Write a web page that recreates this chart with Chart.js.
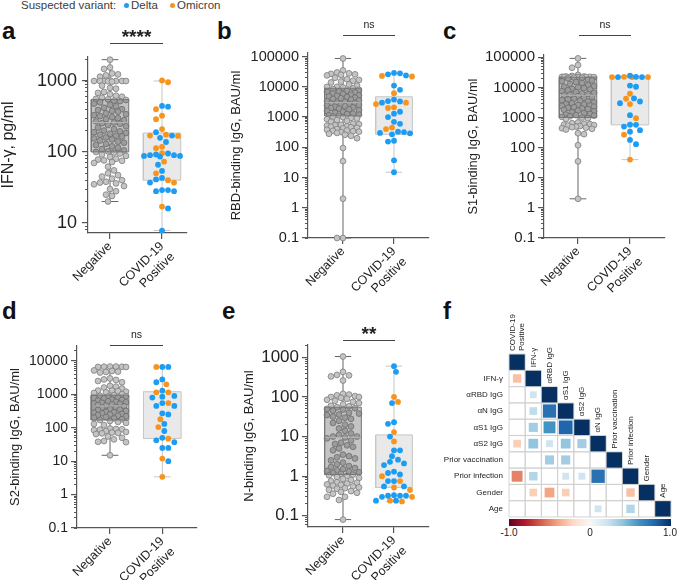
<!DOCTYPE html>
<html><head><meta charset="utf-8">
<script src="https://cdn.jsdelivr.net/npm/chart.js@4.4.1/dist/chart.umd.min.js"></script>
<style>
body{margin:0;background:#fff;}
#wrap{position:relative;width:677px;height:580px;overflow:hidden;font-family:'Liberation Sans',Arial,Helvetica,sans-serif;color:#222;}
canvas{position:absolute;}
.lt{position:absolute;font-weight:bold;font-size:24px;line-height:1;color:#111;}
.sig{position:absolute;text-align:center;line-height:1;color:#222;white-space:nowrap;}
.bar{position:absolute;height:0;border-top:1.3px solid #444;}
.leg{position:absolute;font-size:11.5px;line-height:12px;color:#3c3c3c;white-space:nowrap;}
.dot{position:absolute;width:5px;height:5px;border-radius:50%;}
.cb{position:absolute;font-size:10px;line-height:10px;color:#222;width:30px;text-align:center;}
</style></head>
<body><div id="wrap">
<div class="leg" style="left:21px;top:-1px;">Suspected variant:</div>
<div class="dot" style="left:124px;top:3px;background:#1c9cf2;"></div>
<div class="leg" style="left:131px;top:-1px;">Delta</div>
<div class="dot" style="left:170px;top:3px;background:#f7941d;"></div>
<div class="leg" style="left:177px;top:-1px;">Omicron</div>
<div class="lt" style="left:2px;top:19px;">a</div>
<div class="lt" style="left:217px;top:19px;">b</div>
<div class="lt" style="left:443px;top:19px;">c</div>
<div class="lt" style="left:2px;top:299px;">d</div>
<div class="lt" style="left:222px;top:299px;">e</div>
<div class="lt" style="left:443px;top:299px;">f</div>
<div id="cbar" style="position:absolute;left:509px;top:519px;width:162px;height:7px;"></div>
</div>
<script>
// ---------------- DATA ----------------
const groupLabels = ['Negative', ['COVID-19', 'Positive']];

// a: IFN-gamma, pg/ml
const ifnNeg = [2000,1550,1480,1280,1240,1200,1150,1020,1000,1000,1000,1000,1000,1000,990,980,860,800,780,700,680,650,620,600,580,560,550,540,530,520,500,480,460,440,420,400,390,380,370,350,340,330,320,310,300,290,280,270,260,255,250,240,230,220,210,200,195,190,185,180,175,170,165,160,155,150,145,140,135,130,125,120,115,110,105,102,100,98,95,92,88,85,80,78,76,75,72,70,62,55,50,47,45,42,40,38,37,36,35,33,30,28,25,24,20];
const ifnDelta = [445,435,190,170,158,138,95,92,90,90,88,88,86,66,54,43,41,37,29,29,28,28,16,7.8];
const ifnOmicron = [1020,960,400,325,290,210,175,170,168,118,113,96,73,50,40,37,17];
const ifnBoxNeg = [20,100,260,550,2000];   // min, q1, median, q3, max
const ifnBoxPos = [7.8,40,95,185,1000];

// b: RBD-binding IgG
const rbdNeg = [87000,35000,30000,28000,27000,26000,25000,24000,20000,18000,17000,16000,15000,14000,12000,11000,10000,10000,9500,9000,8500,8000,7500,7000,6800,6500,6000,5800,5500,5200,5000,4800,4600,4400,4200,4000,3800,3600,3400,3200,3000,2900,2800,2700,2600,2500,2400,2300,2200,2100,2000,1900,1800,1700,1600,1500,1400,1300,1250,1200,1150,1100,1050,1000,950,900,850,800,750,700,600,580,560,540,520,500,480,460,440,420,400,380,360,350,340,330,320,300,280,260,240,200,95,35,2,0.1,0.1];
const rbdDelta = [29000,26000,24000,28000,11000,8000,3800,3400,3000,3300,1500,1300,1000,700,600,330,290,270,300,320,165,155,37,15];
const rbdOmicron = [22000,23000,6200,3000,2700,2100,2000,450,400];
const rbdBoxNeg = [0.1,1100,3000,9000,87000];
const rbdBoxPos = [15,270,2000,4700,28000];

// c: S1-binding IgG
const s1Neg = [92000,55000,45000,26000,24000,23000,23000,22500,22500,22000,22000,22000,22000,22000,22000,21500,21000,21000,20000,18000,17000,16000,15000,14000,13000,12000,11000,10500,10000,9500,9000,8500,8000,7500,7000,6600,6300,6000,5700,5400,5100,4800,4500,4200,4000,3800,3600,3400,3200,3000,2800,2700,2600,2500,2400,2300,2200,2100,2000,1900,1800,1700,1600,1500,1400,1300,1250,1200,1150,1100,1050,1000,950,900,680,650,620,600,580,560,540,520,500,480,460,440,420,400,300,280,120,35,2];
const s1Delta = [24500,22500,22000,22000,10500,11500,4300,3400,3000,1200,580,570,500,380,340,180,130];
const s1Omicron = [22000,22000,22000,22500,6200,4200,2800,950,270,40];
const s1BoxNeg = [2,1000,5500,22000,92000];
const s1BoxPos = [40,570,5000,22000,24500];

// d: S2-binding IgG
const s2Neg = [6800,6800,6700,6700,6600,6600,5200,5000,4800,4700,4500,3000,2800,2700,2500,2300,1800,1700,1600,1500,1300,1300,1250,1200,1150,1100,1000,950,900,880,850,800,780,750,700,680,650,620,600,580,560,540,520,500,480,460,440,420,400,380,360,350,340,320,300,290,280,270,260,250,240,230,220,210,200,190,180,170,160,150,140,130,120,95,92,90,88,85,80,75,72,70,68,65,55,50,45,40,38,37,15];
const s2Delta = [6600,6600,2800,2300,1300,900,850,800,550,450,450,270,250,130,80,50,42,37,25,25,10];
const s2Omicron = [6600,2000,1150,1150,550,180,105,47,12,3.4];
const s2BoxNeg = [15,170,450,950,6800];
const s2BoxPos = [3.4,48,350,1200,6600];

// e: N-binding IgG
const nNeg = [1050,430,360,350,330,260,120,115,110,105,100,100,95,90,85,80,75,70,65,60,58,55,52,50,48,45,40,38,36,35,32,30,28,25,22,20,18,16,14,12,11,10,10,9.5,9,8,7,6.5,6,5.5,5,4.5,3.5,3.2,3,2.8,2.5,2.2,2,1.8,1.7,1.6,1.5,1.4,1.35,1.3,1.25,1.2,1.15,1.1,1.05,1.0,0.95,0.9,0.85,0.8,0.75,0.7,0.68,0.65,0.62,0.6,0.58,0.55,0.52,0.5,0.48,0.45,0.42,0.4,0.38,0.36,0.3,0.3,0.25,0.08];
const nDelta = [600,430,70,21,23,10,4.5,3.2,4.5,2.3,1.9,2.1,2.6,1.3,1.1,1.2,0.75,0.75,0.55,0.55,0.32,0.32,0.3,0.32,0.33,0.24,0.24];
const nOmicron = [100,75,13,7.5,1.0,0.75,0.52,0.45,0.3,0.24,0.23];
const nBoxNeg = [0.08,1.1,9.5,55,1050];
const nBoxPos = [0.23,0.52,1.7,11,600];

const sigLabels = ['****','ns','ns','ns','**'];

// f: correlation matrix (lower triangle, row by row)
const corrColLabels = [['COVID-19','Positive'],'IFN-γ','αRBD IgG','αS1 IgG','αS2 IgG','αN IgG','Prior vaccination','Prior infection','Gender','Age'];
const corrRowLabels = ['','IFN-γ','αRBD IgG','αN IgG','αS1 IgG','αS2 IgG','Prior vaccination','Prior infection','Gender','Age'];
const corrRows = [
  [1],
  [-0.3,1],
  [0,0.2,1],
  [0,0.25,0.75,1],
  [0,0.35,0.6,0.8,1],
  [-0.25,0.4,0.2,0.4,0.35,1],
  [0,0,0.35,0.35,0,0,1],
  [-0.5,0.3,0,0.2,0.2,0.75,0,1],
  [0,-0.25,-0.4,-0.25,0,0,0,-0.3,1],
  [0,0,0,0,0,0.2,0,0.3,0,1]
];
const colorbarTicks = ['-1.0','0','1.0'];

// ---------------- STYLE / LAYOUT ----------------
Chart.defaults.font.family = "'Liberation Sans', Arial, Helvetica, sans-serif";
Chart.defaults.color = '#222';
Chart.defaults.animation = false;
Chart.defaults.events = [];
Chart.defaults.plugins.legend.display = false;
Chart.defaults.plugins.tooltip.enabled = false;

const AXIS = '#555';
const DELTA_C = '#1c9cf2', OMI_C = '#f7941d', NEG_FILL = '#c4c4c4', NEG_LINE = '#7d7d7d';

const panels = [
  {title:'IFN-γ, pg/ml', neg:ifnNeg, delta:ifnDelta, omi:ifnOmicron, boxNeg:ifnBoxNeg, boxPos:ifnBoxPos,
   yMin:7.2, yMax:2180, xMin:-0.423, xMax:1.48, canvas:[0,0,220,300], area:[88,57,187,233], titleCx:9, titleSize:16, tickSize:18, tickPad:5,
   sig:{x1:110,x2:163,y:42.5,top:27,size:19,bold:true}},
  {title:'RBD-binding IgG, BAU/ml', neg:rbdNeg, delta:rbdDelta, omi:rbdOmicron, boxNeg:rbdBoxNeg, boxPos:rbdBoxPos,
   yMin:0.1, yMax:132000, xMin:-0.686, xMax:1.686, canvas:[220,0,220,300], area:[308,53,429,238], titleCx:236.5, titleSize:13, tickSize:14.5, tickPad:3,
   sig:{x1:343,x2:395,y:35,top:19,size:10.5,bold:false}},
  {title:'S1-binding IgG, BAU/ml', neg:s1Neg, delta:s1Delta, omi:s1Omicron, boxNeg:s1BoxNeg, boxPos:s1BoxPos,
   yMin:0.1, yMax:119000, xMin:-0.654, xMax:1.673, canvas:[440,0,237,300], area:[544,55,665,238], titleCx:473, titleSize:12.8, tickSize:15, tickPad:3,
   sig:{x1:579,x2:631,y:35,top:19,size:10.5,bold:false}},
  {title:'S2-binding IgG, BAU/ml', neg:s2Neg, delta:s2Delta, omi:s2Omicron, boxNeg:s2BoxNeg, boxPos:s2BoxPos,
   yMin:0.1, yMax:28000, xMin:-0.631, xMax:1.663, canvas:[0,290,220,290], area:[77,346,197,528], titleCx:15, titleSize:13, tickSize:14, tickPad:3,
   sig:{x1:110,x2:163,y:345,top:329,size:10.5,bold:false}},
  {title:'N-binding IgG, BAU/ml', neg:nNeg, delta:nDelta, omi:nOmicron, boxNeg:nBoxNeg, boxPos:nBoxPos,
   yMin:0.052, yMax:2050, xMin:-0.686, xMax:1.686, canvas:[220,290,220,290], area:[308,345,429,527], titleCx:249, titleSize:13, tickSize:17, tickPad:3,
   sig:{x1:343,x2:395,y:340,top:324,size:19,bold:true}}
];

const wrap = document.getElementById('wrap');

function decadeTicks(s){
  const t=[];
  for(let k=-3;k<=6;k++){const v=Number('1e'+k); if(v>=s.min*0.999 && v<=s.max*1.001) t.push({value:v});}
  s.ticks=t;
}
function minorTicks(s){
  const t=[];
  for(let k=-3;k<=6;k++) for(let m=1;m<=9;m++){const v=m*Number('1e'+k); if(v>=s.min*0.999 && v<=s.max*1.001) t.push({value:v});}
  s.ticks=t;
}

function boxDatasets(stats, cx, st){
  const [mn,q1,md,q3,mx]=stats; const bw=0.36, cw=0.16;
  const c={type:'line', showLine:true, pointRadius:0, borderWidth:1, clip:false, tension:0};
  return [
    {...c, data:[{x:cx-bw,y:q1},{x:cx+bw,y:q1},{x:cx+bw,y:q3},{x:cx-bw,y:q3},{x:cx-bw,y:q1}], fill:'shape', backgroundColor:st.fill, borderColor:st.edge, order:st.boxOrder},
    {...c, data:[{x:cx,y:mn},{x:cx,y:q1}], borderColor:st.whisk, fill:false, order:3},
    {...c, data:[{x:cx,y:q3},{x:cx,y:mx}], borderColor:st.whisk, fill:false, order:3},
    {...c, data:[{x:cx-cw,y:mn},{x:cx+cw,y:mn}], borderColor:st.whisk, fill:false, order:3},
    {...c, data:[{x:cx-cw,y:mx},{x:cx+cw,y:mx}], borderColor:st.whisk, fill:false, order:3},
    {...c, data:[{x:cx-bw,y:md},{x:cx+bw,y:md}], borderColor:st.med, fill:false, order:st.boxOrder}
  ];
}

function swarm(py, d, maxOff){
  const idx=py.map((_,i)=>i).sort((a,b)=>py[a]-py[b]);
  const placed=[], off=new Array(py.length).fill(0);
  const step=d/3, nMax=Math.floor(maxOff/step);
  idx.forEach((i,n)=>{
    const y=py[i];
    const near=placed.filter(p=>Math.abs(p.y-y)<d);
    let chosen=null, bestO=0, bestD=-1;
    for(let k=0;k<=nMax && chosen===null;k++){
      const signs=k===0?[1]:(n%2?[1,-1]:[-1,1]);
      for(const s of signs){
        const o=s*k*step; let md=Infinity;
        for(const p of near) md=Math.min(md,Math.hypot(p.x-o,p.y-y));
        if(md>=d){chosen=o;break;}
        if(md>bestD){bestD=md;bestO=o;}
      }
    }
    const o=chosen===null?bestO:chosen;
    off[i]=o; placed.push({x:o,y});
  });
  return off;
}

function addHtml(cls, style, text){
  const el=document.createElement('div'); el.className=cls; Object.assign(el.style, style);
  if(text!==undefined) el.textContent=text; wrap.appendChild(el); return el;
}

panels.forEach((p,pi)=>{
  const [cl,ct,cw,ch]=p.canvas, [L,T,R,B]=p.area;
  const cv=document.createElement('canvas'); cv.width=cw; cv.height=ch;
  cv.style.left=cl+'px'; cv.style.top=ct+'px'; wrap.appendChild(cv);
  const titleLeft=p.titleCx-0.6*p.titleSize;
  const yW=L-titleLeft, xH=ct+ch-B;

  const negDs={type:'scatter', data:p.neg.map(v=>({x:0,y:v})), pointRadius:2.9, backgroundColor:NEG_FILL, borderColor:NEG_LINE, borderWidth:0.8, order:1, clip:false};
  const deltaDs={type:'scatter', data:p.delta.map(v=>({x:1,y:v})), pointRadius:2.9, backgroundColor:DELTA_C, borderWidth:0, order:1, clip:false};
  const omiDs={type:'scatter', data:p.omi.map(v=>({x:1,y:v})), pointRadius:2.9, backgroundColor:OMI_C, borderWidth:0, order:1, clip:false};

  const datasets=[negDs, deltaDs, omiDs,
    ...boxDatasets(p.boxNeg,0,{fill:'rgba(70,70,70,0.32)',edge:'#777',whisk:'#666',med:'#e8e8e8',boxOrder:0}),
    ...boxDatasets(p.boxPos,1,{fill:'#e9e9e9',edge:'#c6c6c6',whisk:'#c6c6c6',med:'#a9a9a9',boxOrder:5})];

  const chart=new Chart(cv,{
    type:'scatter',
    data:{datasets},
    options:{
      responsive:false, maintainAspectRatio:false, devicePixelRatio:1,
      layout:{padding:{left:titleLeft-cl, top:T-ct, right:cl+cw-R, bottom:0}},
      scales:{
        x:{type:'linear', min:p.xMin, max:p.xMax, bounds:'data', position:'bottom',
           afterBuildTicks:s=>{s.ticks=[{value:0},{value:1}];},
           afterFit:s=>{s.height=xH;},
           ticks:{autoSkip:false, minRotation:45, maxRotation:45, padding:0, font:{size:12.5}, color:'#222', callback:(v,i)=>groupLabels[i]},
           grid:{display:true, drawOnChartArea:false, drawTicks:true, tickLength:6, color:AXIS, lineWidth:1.2},
           border:{display:true, color:AXIS, width:1.2}},
        y:{type:'logarithmic', min:p.yMin, max:p.yMax, bounds:'data', position:'left', weight:1,
           afterBuildTicks:decadeTicks, afterFit:s=>{s.width=yW;},
           ticks:{autoSkip:false, padding:p.tickPad, font:{size:p.tickSize}, color:'#222', callback:v=>String(v)},
           grid:{display:true, drawOnChartArea:false, drawTicks:true, tickLength:6, color:AXIS, lineWidth:1.2},
           border:{display:true, color:AXIS, width:1.2},
           title:{display:true, text:p.title, font:{size:p.titleSize}, padding:0, color:'#222'}},
        yMinor:{type:'logarithmic', min:p.yMin, max:p.yMax, bounds:'data', position:'left', weight:0,
           afterBuildTicks:minorTicks, afterFit:s=>{s.width=0;},
           ticks:{display:false, autoSkip:false},
           grid:{display:true, drawOnChartArea:false, drawTicks:true, tickLength:3, color:AXIS, lineWidth:1},
           border:{display:false}}
      }
    }
  });

  // beeswarm placement through the chart's own scales
  const xs=chart.scales.x, ys=chart.scales.y;
  const ppu=xs.getPixelForValue(1)-xs.getPixelForValue(0);
  const negOff=swarm(p.neg.map(v=>ys.getPixelForValue(v)),6,16);
  negDs.data=p.neg.map((v,i)=>({x:negOff[i]/ppu,y:v}));
  const pos=p.delta.map(v=>({v,c:0})).concat(p.omi.map(v=>({v,c:1})));
  const posOff=swarm(pos.map(o=>ys.getPixelForValue(o.v)),6,18);
  const dd=[],od=[];
  pos.forEach((o,i)=>{const pt={x:1+posOff[i]/ppu,y:o.v}; (o.c===0?dd:od).push(pt);});
  deltaDs.data=dd; omiDs.data=od;
  chart.update('none');

  // significance annotation
  const s=p.sig;
  addHtml('bar',{left:s.x1+'px',top:s.y+'px',width:(s.x2-s.x1)+'px'});
  addHtml('sig',{left:((s.x1+s.x2)/2-30)+'px',width:'60px',top:s.top+'px',fontSize:s.size+'px',fontWeight:s.bold?'bold':'normal'},sigLabels[pi]);
});

// ---------------- f: correlation heatmap ----------------
const rdbuStops=['#67001f','#b2182b','#d6604d','#f4a582','#fddbc7','#f7f7f7','#d1e5f0','#92c5de','#4393c3','#2166ac','#053061'];
function hex(h){return [1,3,5].map(i=>parseInt(h.substr(i,2),16));}
function rdbu(v){
  const t=(v+1)/2*10, i=Math.max(0,Math.min(9,Math.floor(t))), f=t-i;
  const a=hex(rdbuStops[i]), b=hex(rdbuStops[i+1]);
  return 'rgb('+a.map((c,k)=>Math.round(c+(b[k]-c)*f)).join(',')+')';
}
document.getElementById('cbar').style.background='linear-gradient(to right,'+rdbuStops.join(',')+')';
[[509,0],[590,1],[670,2]].forEach(([x,i])=>addHtml('cb',{left:(x-15)+'px',top:'528px'},colorbarTicks[i]));

const gridCells=[], valCells=[];
corrRows.forEach((row,r)=>row.forEach((v,c)=>{gridCells.push({x:c,y:r}); if(v!==0) valCells.push({x:c,y:r,v});}));
const cellPx=ch=>ch.scales.x.getPixelForValue(1)-ch.scales.x.getPixelForValue(0);

const colLabelPlugin={id:'colLabels', afterDraw(chart){
  const {ctx, scales:{x,y}}=chart;
  ctx.save(); ctx.font="8px 'Liberation Sans', Arial, sans-serif"; ctx.fillStyle='#222';
  corrColLabels.forEach((lab,i)=>{
    const lines=Array.isArray(lab)?lab:[lab];
    const px=x.getPixelForValue(i), py=y.getPixelForValue(i-0.5)-3;
    lines.forEach((ln,j)=>{
      ctx.save(); ctx.translate(px+(j-(lines.length-1)/2)*9, py); ctx.rotate(-Math.PI/2);
      ctx.textAlign='left'; ctx.textBaseline='middle'; ctx.fillText(ln,0,0); ctx.restore();
    });
  });
  ctx.restore();
}};

const hcv=document.createElement('canvas'); hcv.width=237; hcv.height=250;
hcv.style.left='440px'; hcv.style.top='295px'; wrap.appendChild(hcv);
new Chart(hcv,{
  type:'scatter',
  data:{datasets:[
    {data:gridCells, pointStyle:'rect', pointRadius:c=>cellPx(c.chart)/Math.SQRT2, backgroundColor:'rgba(255,255,255,0)', borderColor:'#cfcfcf', borderWidth:0.9, order:2, clip:false},
    {data:valCells, pointStyle:'rect', pointRadius:c=>c.raw?cellPx(c.chart)*0.95*Math.sqrt(Math.abs(c.raw.v))/Math.SQRT2:0, backgroundColor:c=>c.raw?rdbu(c.raw.v):'#fff', borderWidth:0, order:1, clip:false}
  ]},
  options:{
    responsive:false, maintainAspectRatio:false, devicePixelRatio:1,
    layout:{padding:{left:0, top:59, right:6, bottom:28}},
    scales:{
      x:{type:'linear', display:false, min:-0.5, max:9.5},
      y:{type:'linear', min:-0.5, max:9.5, reverse:true, bounds:'data',
         afterBuildTicks:s=>{s.ticks=corrRowLabels.map((_,i)=>({value:i}));},
         afterFit:s=>{s.width=69;},
         ticks:{autoSkip:false, padding:6, font:{size:8}, color:'#222', callback:(v,i)=>corrRowLabels[i]},
         grid:{display:false, drawTicks:false}, border:{display:false}}
    }
  },
  plugins:[colLabelPlugin]
});
</script>
</body></html>
